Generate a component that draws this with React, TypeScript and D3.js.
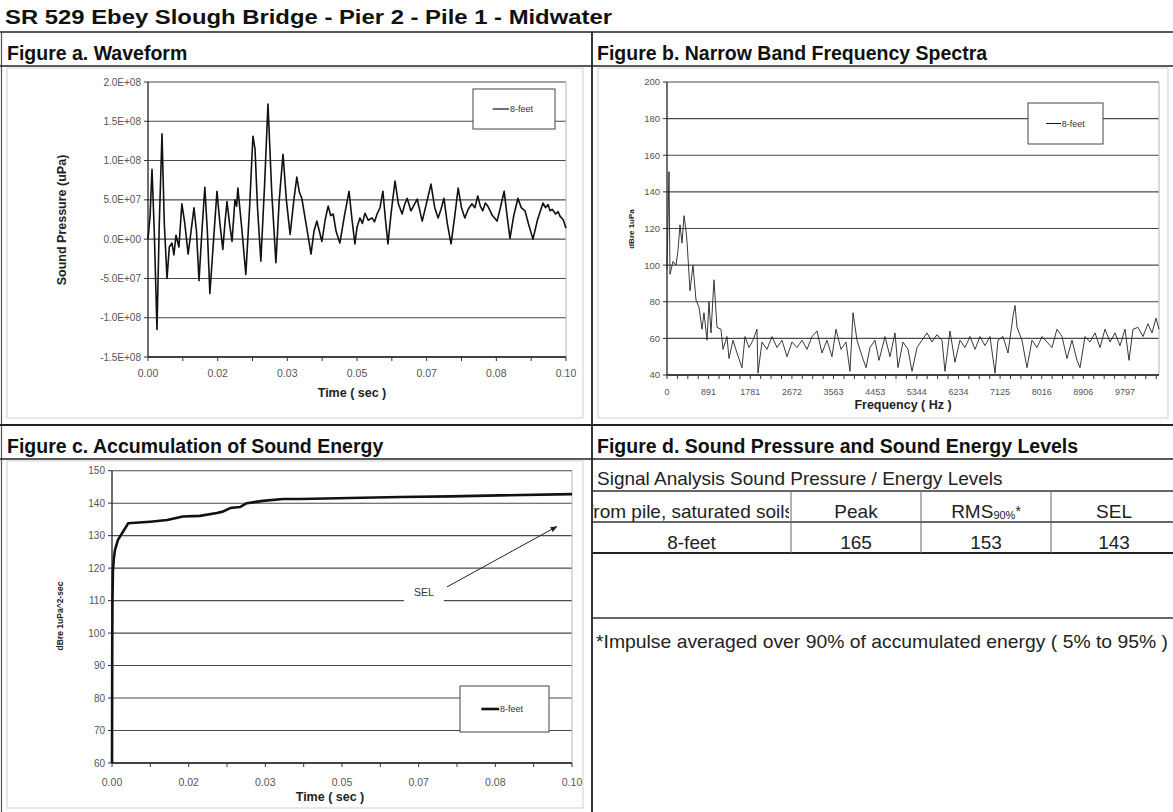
import React from 'react'
import * as d3 from 'd3'

const FONT = "'Liberation Sans', Arial, Helvetica, sans-serif"

// ---------- Figure a: waveform [time (sec), pressure (uPa)]
const waveSamples: [number, number][] = [
  [0, 0], [0.0005, 3.0e7], [0.00096, 8.9e7], [0.0015, 1.0e7], [0.00215, -1.15e8], [0.0027, 2.0e7],
  [0.00335, 1.34e8], [0.0039, 2.0e7], [0.00455, -5.0e7], [0.0051, -1.0e7], [0.00574, -5.0e6],
  [0.0062, -2.0e7], [0.0067, 5.0e6], [0.0074, -1.0e7], [0.0081, 4.5e7], [0.0088, 2.0e7],
  [0.0096, -1.9e7], [0.0103, 1.0e7], [0.011, 4.0e7], [0.0116, 1.0e7], [0.0122, -5.3e7],
  [0.0129, 1.0e7], [0.0136, 6.6e7], [0.0142, 1.0e7], [0.0148, -6.9e7], [0.0157, 0],
  [0.0165, 6.1e7], [0.0172, 2.0e7], [0.0179, -1.3e7], [0.0184, 2.0e7], [0.0189, 4.8e7],
  [0.0195, 2.0e7], [0.0201, -3.0e6], [0.0208, 5.0e7], [0.0212, 4.2e7], [0.0215, 6.5e7],
  [0.0225, 1.0e7], [0.0234, -4.5e7], [0.0243, 4.0e7], [0.0251, 1.31e8], [0.0256, 1.15e8],
  [0.0262, 4.0e7], [0.027, -2.8e7], [0.0279, 7.0e7], [0.0287, 1.72e8], [0.0296, 6.0e7],
  [0.0306, -3.0e7], [0.0314, 5.0e7], [0.0323, 1.08e8], [0.0331, 5.0e7], [0.034, 6.0e6],
  [0.0349, 5.0e7], [0.0356, 7.9e7], [0.0362, 6.0e7], [0.0368, 5.2e7], [0.0378, 2.0e7],
  [0.039, -1.9e7], [0.0397, 1.0e7], [0.0404, 2.3e7], [0.041, 1.0e7], [0.0416, -3.0e6],
  [0.0424, 2.5e7], [0.0431, 4.2e7], [0.0437, 3.0e7], [0.0443, 3.2e7], [0.045, 1.0e7],
  [0.0459, -5.0e6], [0.047, 3.0e7], [0.0481, 6.1e7], [0.0488, 2.5e7], [0.0495, -6.0e6],
  [0.05, 1.5e7], [0.0507, 2.7e7], [0.0513, 2.0e7], [0.0519, 3.3e7], [0.0527, 2.4e7],
  [0.0536, 2.7e7], [0.0542, 2.2e7], [0.0548, 3.2e7], [0.0555, 4.0e7], [0.0562, 6.1e7],
  [0.0568, 2.5e7], [0.0574, -6.0e6], [0.0582, 3.5e7], [0.0591, 7.4e7], [0.0599, 4.5e7],
  [0.0608, 3.2e7], [0.0614, 4.4e7], [0.062, 5.2e7], [0.0629, 3.6e7], [0.0637, 4.4e7],
  [0.0644, 5.1e7], [0.0656, 2.3e7], [0.0666, 4.5e7], [0.0677, 7.0e7], [0.0686, 4.0e7],
  [0.0694, 2.7e7], [0.0701, 3.8e7], [0.0708, 5.2e7], [0.0716, 2.0e7], [0.0725, -6.0e6],
  [0.0734, 3.0e7], [0.0742, 6.5e7], [0.075, 4.0e7], [0.0758, 2.7e7], [0.0766, 3.8e7],
  [0.0775, 4.5e7], [0.0782, 4.0e7], [0.0789, 5.5e7], [0.0795, 4.2e7], [0.0801, 3.6e7],
  [0.0807, 4.6e7], [0.0813, 4.2e7], [0.0824, 3.0e7], [0.0835, 2.3e7], [0.0843, 4.0e7],
  [0.0852, 6.1e7], [0.0859, 3.0e7], [0.0866, 1.0e6], [0.0875, 3.0e7], [0.0885, 5.2e7],
  [0.0893, 4.0e7], [0.0902, 3.6e7], [0.091, 2.0e7], [0.0921, 0], [0.0932, 2.5e7],
  [0.0945, 4.6e7], [0.0951, 4.0e7], [0.0957, 4.4e7], [0.0962, 3.6e7], [0.0967, 3.8e7],
  [0.0975, 3.2e7], [0.0981, 3.5e7], [0.0986, 2.9e7], [0.0993, 2.5e7], [0.1, 1.4e7],
]
const pressureTicks = [2e8, 1.5e8, 1e8, 5e7, 0, -5e7, -1e8, -1.5e8]
const pressureLabels = ['2.0E+08', '1.5E+08', '1.0E+08', '5.0E+07', '0.0E+00', '-5.0E+07', '-1.0E+08', '-1.5E+08']
const timeLabels = ['0.00', '0.02', '0.03', '0.05', '0.07', '0.08', '0.10']

// ---------- Figure b: spectrum [frequency (Hz), level (dB re 1uPa)]
const spectrum: [number, number][] = [
  [0, 98], [43, 151], [64, 95], [128, 102], [193, 100], [235, 108], [278, 122], [321, 112],
  [364, 127], [406, 119], [428, 113], [492, 86], [556, 100], [620, 81], [684, 77], [749, 65],
  [791, 74], [856, 59], [898, 80], [941, 63], [1005, 92], [1070, 66], [1155, 65], [1198, 54],
  [1283, 61], [1326, 49], [1412, 59], [1497, 52], [1604, 44], [1668, 61], [1754, 55], [1840, 59],
  [1925, 65], [1946, 41], [2032, 58], [2139, 54], [2246, 61], [2353, 55], [2460, 59], [2567, 50],
  [2674, 58], [2781, 55], [2888, 59], [2995, 54], [3102, 61], [3209, 64], [3315, 52], [3422, 59],
  [3529, 50], [3615, 65], [3722, 54], [3829, 58], [3914, 42], [3979, 74], [4064, 59], [4150, 52],
  [4257, 44], [4342, 55], [4449, 59], [4535, 48], [4663, 61], [4770, 50], [4877, 63], [4941, 44],
  [5048, 58], [5155, 54], [5241, 42], [5348, 55], [5454, 59], [5561, 63], [5668, 58], [5775, 62],
  [5882, 59], [5946, 42], [6053, 64], [6160, 47], [6267, 59], [6374, 55], [6481, 61], [6588, 54],
  [6695, 61], [6802, 56], [6909, 61], [7016, 41], [7080, 59], [7187, 61], [7294, 52], [7401, 72],
  [7444, 78], [7487, 66], [7593, 59], [7700, 44], [7807, 59], [7914, 55], [8021, 61], [8128, 58],
  [8235, 55], [8342, 65], [8449, 61], [8556, 49], [8663, 59], [8770, 48], [8834, 44], [8941, 61],
  [9048, 58], [9155, 63], [9262, 55], [9369, 65], [9476, 58], [9583, 63], [9690, 56], [9797, 65],
  [9882, 48], [9968, 65], [10075, 66], [10182, 61], [10289, 68], [10374, 63], [10460, 71], [10524, 65],
]
const levelTicks = [200, 180, 160, 140, 120, 100, 80, 60, 40]
const freqLabels = ['0', '891', '1781', '2672', '3563', '4453', '5344', '6234', '7125', '8016', '8906', '9797']
const freqStep = 890.625
const freqMax = 10524

// ---------- Figure c: accumulated energy [time (sec), dB re 1uPa^2-sec]
const selCurve: [number, number][] = [
  [0, 60], [0.00005, 95], [0.0001, 110], [0.0002, 119], [0.0004, 123], [0.00065, 125.6],
  [0.0013, 128.7], [0.0022, 130.8], [0.0033, 133.3], [0.0035, 133.8], [0.0083, 134.3],
  [0.012, 134.8], [0.0154, 135.9], [0.0191, 136.1], [0.0228, 137], [0.0241, 137.4],
  [0.0257, 138.5], [0.0278, 138.8], [0.0293, 140], [0.0328, 140.7], [0.0372, 141.3],
  [0.0409, 141.3], [0.0517, 141.6], [0.0626, 141.9], [0.0735, 142.1], [0.0843, 142.4], [0.1, 142.8],
]
const energyTicks = [150, 140, 130, 120, 110, 100, 90, 80, 70, 60]
const selNote = { label: [0.0678, 112.4], from: [0.0728, 114.2], to: [0.0967, 132.8] }

// ---------- Figure d: table
const tableTitle = 'Signal Analysis Sound Pressure / Energy Levels'
const tableHead = ['Distance from pile, saturated soils', 'Peak', 'RMS', 'SEL']
const tableRow = ['8-feet', '165', '153', '143']
const footnote = '*Impulse averaged over 90% of accumulated energy ( 5% to 95% )'

type Box = { left: number; right: number; top: number; bottom: number }

function Grid({ box, y, ticks, labels, size }: any) {
  return (
    <g>
      {ticks.map((v: number, i: number) => (
        <g key={i}>
          <line x1={box.left} x2={box.right} y1={y(v)} y2={y(v)} stroke="#4a4a4a" strokeWidth={1.1} />
          <line x1={box.left - 4} x2={box.left} y1={y(v)} y2={y(v)} stroke="#333" />
          <text x={box.left - 7} y={y(v)} dy="0.36em" textAnchor="end" fontSize={size} fill="#555">
            {labels[i]}
          </text>
        </g>
      ))}
      <line x1={box.right} x2={box.right} y1={box.top} y2={box.bottom} stroke="#b5b5b5" />
      <line x1={box.left} x2={box.left} y1={box.top} y2={box.bottom} stroke="#222" strokeWidth={1.3} />
    </g>
  )
}

function BottomAxis({ box, x, majors, labels, minors, labelY, size }: any) {
  return (
    <g>
      <line x1={box.left} x2={box.right} y1={box.bottom} y2={box.bottom} stroke="#222" strokeWidth={1.3} />
      {minors.map((v: number, i: number) => (
        <line key={i} x1={x(v)} x2={x(v)} y1={box.bottom} y2={box.bottom + 4} stroke="#333" />
      ))}
      {majors.map((v: number, i: number) => (
        <text key={i} x={x(v)} y={labelY} textAnchor="middle" fontSize={size} fill="#555">
          {labels[i]}
        </text>
      ))}
    </g>
  )
}

function Legend({ x, y, w, h, sw }: any) {
  return (
    <g>
      <rect x={x} y={y} width={w} height={h} fill="#fff" stroke="#444" strokeWidth={1} />
      <line x1={x + w * 0.24} x2={x + w * 0.44} y1={y + h / 2} y2={y + h / 2} stroke="#111" strokeWidth={sw} />
      <text x={x + w * 0.45} y={y + h / 2} dy="0.35em" fontSize={9} fill="#333">8-feet</text>
    </g>
  )
}

export default function App() {
  // Figure a
  const boxA: Box = { left: 148, right: 566, top: 82, bottom: 357 }
  const xA = d3.scaleLinear().domain([0, 0.1]).range([boxA.left, boxA.right])
  const yA = d3.scaleLinear().domain([-1.5e8, 2e8]).range([boxA.bottom, boxA.top])
  const waveLine = d3.line<[number, number]>().x((d) => xA(d[0])).y((d) => yA(d[1]))
  const timeMajors = d3.range(7).map((i) => (i * 0.1) / 6)
  const timeMinors = d3.range(13).map((i) => (i * 0.1) / 12)

  // Figure b
  const boxB: Box = { left: 667, right: 1159, top: 82, bottom: 375 }
  const xB = d3.scaleLinear().domain([0, freqMax]).range([boxB.left, boxB.right])
  const yB = d3.scaleLinear().domain([40, 200]).range([boxB.bottom, boxB.top])
  const specLine = d3.line<[number, number]>().x((d) => xB(d[0])).y((d) => yB(d[1]))
  const freqMajors = freqLabels.map((_, i) => i * freqStep)
  const freqMinors = d3.range(0, freqMax, freqStep / 4)

  // Figure c
  const boxC: Box = { left: 112, right: 572, top: 470.7, bottom: 763 }
  const xC = d3.scaleLinear().domain([0, 0.1]).range([boxC.left, boxC.right])
  const yC = d3.scaleLinear().domain([60, 150]).range([boxC.bottom, boxC.top])
  const selLine = d3.line<[number, number]>().x((d) => xC(d[0])).y((d) => yC(d[1]))
  const selX = xC(selNote.label[0])
  const selY = yC(selNote.label[1])

  // Figure d columns
  const cols = [592, 791, 921, 1051, 1181]
  const colMid = (i: number) => (cols[i] + cols[i + 1]) / 2

  return (
    <svg
      width={1173}
      height={812}
      fontFamily={FONT}
      style={{ position: 'absolute', left: 0, top: 0, background: '#fff' }}
    >
      <defs>
        <marker id="arrow" viewBox="0 0 10 10" refX="9" refY="5" markerWidth="7" markerHeight="7" orient="auto">
          <path d="M0,1 L10,5 L0,9 z" fill="#222" />
        </marker>
        <clipPath id="col1">
          <rect x={593} y={491} width={196} height={62} />
        </clipPath>
      </defs>
      <rect width={1173} height={812} fill="#fff" />

      {/* page frame */}
      <text x={5} y={24} fontSize={21} fontWeight="bold" fill="#111" textLength={607} lengthAdjust="spacingAndGlyphs">
        SR 529 Ebey Slough Bridge - Pier 2 - Pile 1 - Midwater
      </text>
      <line x1={0} x2={1173} y1={32} y2={32} stroke="#222" strokeWidth={1.6} />
      <line x1={1.5} x2={1.5} y1={32} y2={812} stroke="#555" strokeWidth={1.2} />
      <line x1={592} x2={592} y1={32} y2={812} stroke="#222" strokeWidth={1.8} />
      <line x1={0} x2={1173} y1={66} y2={66} stroke="#222" strokeWidth={1.6} />
      <line x1={0} x2={1173} y1={425} y2={425} stroke="#222" strokeWidth={2} />
      <line x1={0} x2={1173} y1={459} y2={459} stroke="#222" strokeWidth={1.6} />

      <g fontSize={19.5} fontWeight="bold" fill="#111">
        <text x={7} y={60}>Figure a. Waveform</text>
        <text x={597} y={60}>Figure b. Narrow Band Frequency Spectra</text>
        <text x={7} y={453}>Figure c. Accumulation of Sound Energy</text>
        <text x={597} y={453}>Figure d. Sound Pressure and Sound Energy Levels</text>
      </g>

      {/* chart-area borders */}
      <g fill="none" stroke="#cfcfcf">
        <rect x={7} y={68} width={576} height={350} />
        <rect x={598} y={68} width={570} height={350} />
        <rect x={7} y={461} width={576} height={347} />
      </g>

      {/* Figure a */}
      <Grid box={boxA} y={yA} ticks={pressureTicks} labels={pressureLabels} size={10} />
      <BottomAxis box={boxA} x={xA} majors={timeMajors} labels={timeLabels} minors={timeMinors} labelY={377} size={10.5} />
      <path d={waveLine(waveSamples) || ''} fill="none" stroke="#111" strokeWidth={1.6} strokeLinejoin="round" />
      <Legend x={473} y={89} w={82} h={40} sw={1.2} />
      <text x={352} y={397} textAnchor="middle" fontSize={12.5} fontWeight="bold" fill="#222">Time ( sec )</text>
      <text transform="translate(66,220) rotate(-90)" textAnchor="middle" fontSize={12.5} fontWeight="bold" fill="#222">
        Sound Pressure (uPa)
      </text>

      {/* Figure b */}
      <Grid box={boxB} y={yB} ticks={levelTicks} labels={levelTicks.map(String)} size={9.5} />
      <BottomAxis box={boxB} x={xB} majors={freqMajors} labels={freqLabels} minors={freqMinors} labelY={395} size={9} />
      <path d={specLine(spectrum) || ''} fill="none" stroke="#222" strokeWidth={0.9} strokeLinejoin="round" />
      <Legend x={1028} y={103} w={75} h={41} sw={1} />
      <text x={903} y={409} textAnchor="middle" fontSize={12.5} fontWeight="bold" fill="#222">Frequency ( Hz )</text>
      <text transform="translate(634,229) rotate(-90)" textAnchor="middle" fontSize={8} fontWeight="bold" fill="#222">
        dBre 1uPa
      </text>

      {/* Figure c */}
      <Grid box={boxC} y={yC} ticks={energyTicks} labels={energyTicks.map(String)} size={10} />
      <BottomAxis box={boxC} x={xC} majors={timeMajors} labels={timeLabels} minors={timeMinors} labelY={786} size={10.5} />
      <path d={selLine(selCurve) || ''} fill="none" stroke="#111" strokeWidth={2.6} strokeLinejoin="round" />
      <Legend x={460} y={686} w={89} h={46} sw={2.6} />
      <rect x={selX - 20} y={selY - 10} width={40} height={20} fill="#fff" />
      <text x={selX} y={selY} dy="0.35em" textAnchor="middle" fontSize={10.5} fill="#333">SEL</text>
      <line
        x1={xC(selNote.from[0])}
        y1={yC(selNote.from[1])}
        x2={xC(selNote.to[0])}
        y2={yC(selNote.to[1])}
        stroke="#222"
        strokeWidth={1}
        markerEnd="url(#arrow)"
      />
      <text x={330} y={801} textAnchor="middle" fontSize={12.5} fontWeight="bold" fill="#222">Time ( sec )</text>
      <text transform="translate(63,616) rotate(-90)" textAnchor="middle" fontSize={8.5} fontWeight="bold" fill="#222">
        dBre 1uPa^2-sec
      </text>

      {/* Figure d */}
      <g fontSize={19} fill="#222">
        <text x={597} y={485}>{tableTitle}</text>
        <line x1={592} x2={1173} y1={491} y2={491} stroke="#333" strokeWidth={1.3} />
        <line x1={592} x2={1173} y1={522} y2={522} stroke="#333" strokeWidth={1.3} />
        <line x1={592} x2={1173} y1={553} y2={553} stroke="#222" strokeWidth={2.2} />
        <line x1={592} x2={1173} y1={618} y2={618} stroke="#333" strokeWidth={1.3} />
        {cols.slice(1, 4).map((c) => (
          <line key={c} x1={c} x2={c} y1={491} y2={553} stroke="#666" strokeWidth={1} />
        ))}
        <g clipPath="url(#col1)">
          <text x={794} y={518} textAnchor="end">{tableHead[0]}</text>
        </g>
        <text x={colMid(1)} y={518} textAnchor="middle">{tableHead[1]}</text>
        <text x={colMid(2)} y={518} textAnchor="middle">
          {tableHead[2]}
          <tspan fontSize={11} dy={1}>90%</tspan>
          <tspan fontSize={14} dy={-3}>*</tspan>
        </text>
        <text x={colMid(3) - 2} y={518} textAnchor="middle">{tableHead[3]}</text>
        {tableRow.map((v, i) => (
          <text key={i} x={i === 3 ? colMid(i) - 2 : colMid(i)} y={549} textAnchor="middle">{v}</text>
        ))}
        <text x={596} y={648} textLength={572} lengthAdjust="spacingAndGlyphs">{footnote}</text>
      </g>
    </svg>
  )
}
